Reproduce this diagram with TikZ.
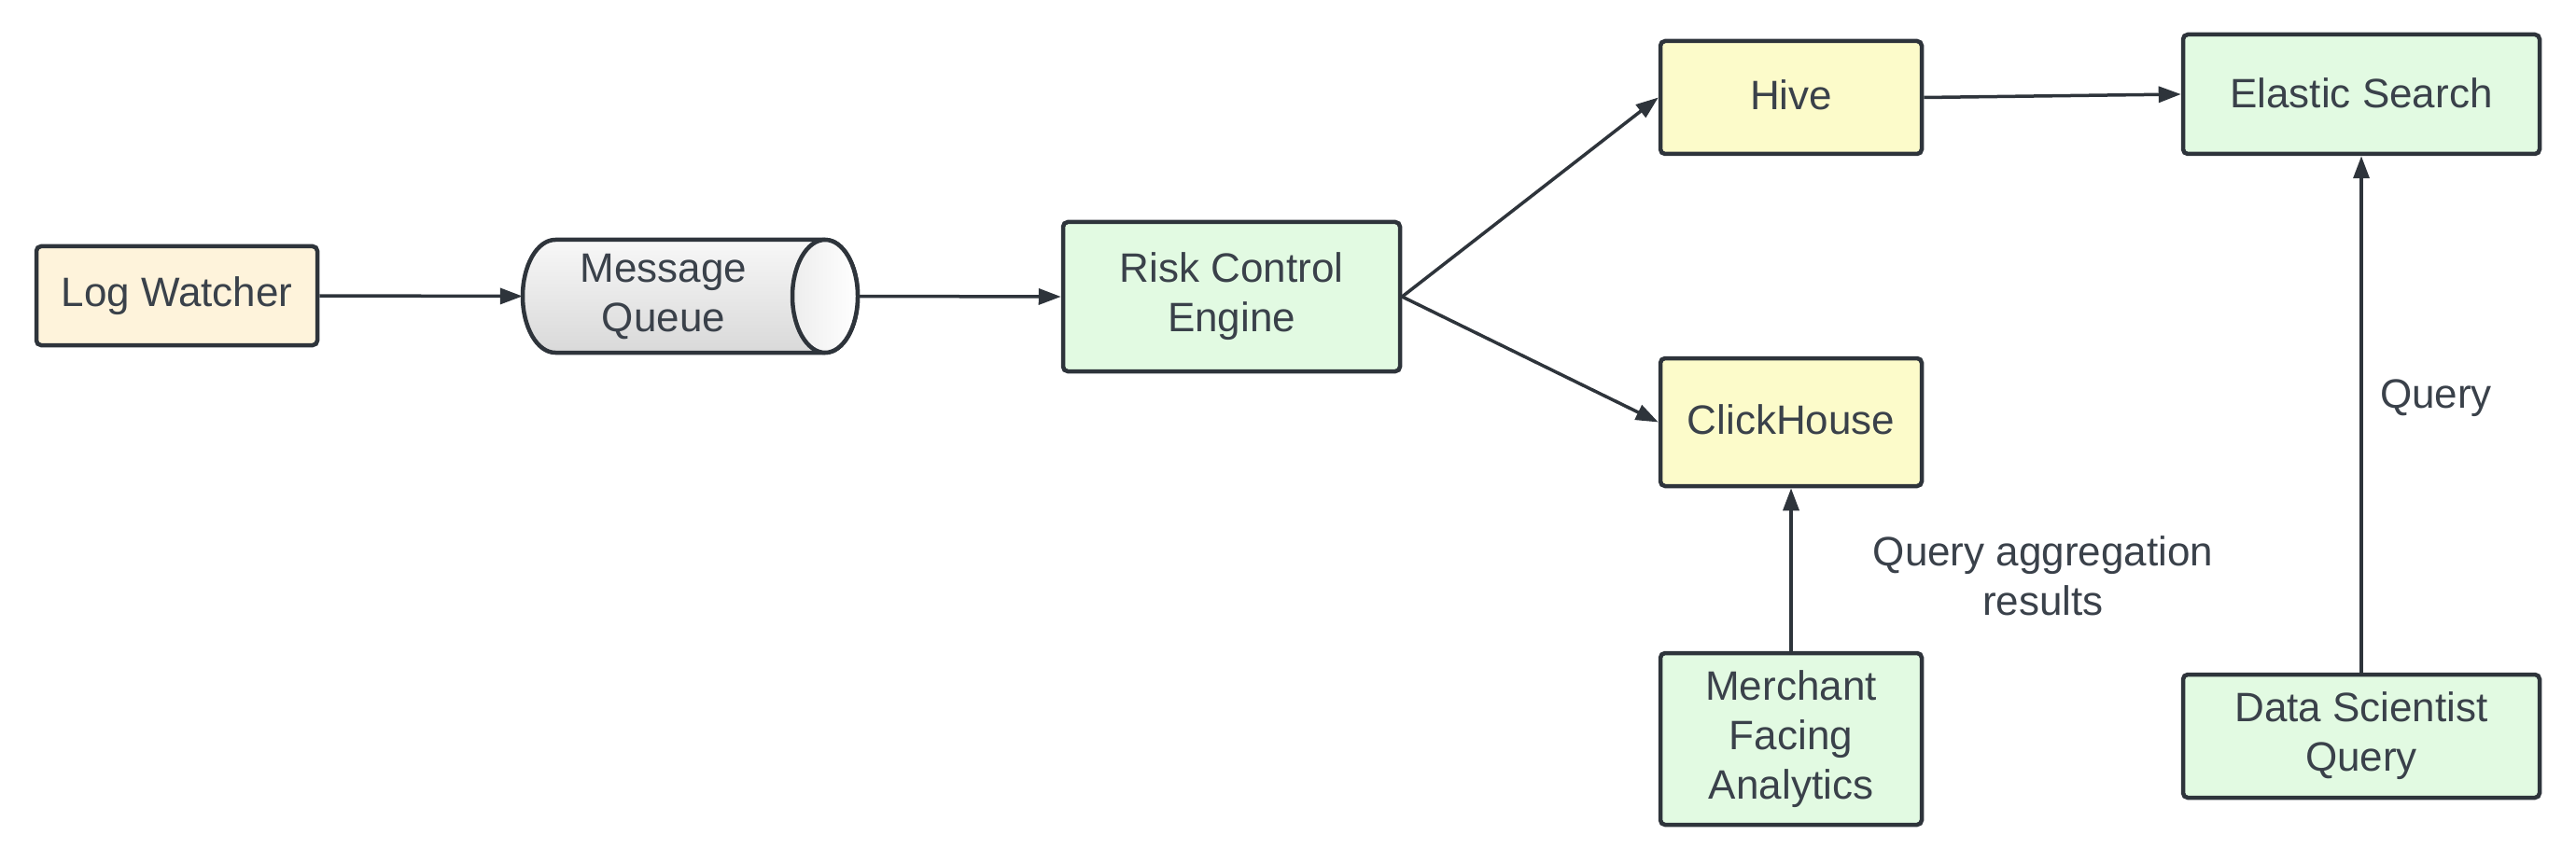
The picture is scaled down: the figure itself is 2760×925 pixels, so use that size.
\documentclass[tikz,border=0pt]{standalone}
\usepackage{fontspec}
\setmainfont{Liberation Sans}
\usetikzlibrary{arrows.meta}
\definecolor{edge}{HTML}{2E343B}
\definecolor{txt}{HTML}{3A414A}
\definecolor{cream}{HTML}{FEF3DB}
\definecolor{mint}{HTML}{E2FAE2}
\definecolor{lemon}{HTML}{FCFBCA}
\begin{document}
\begin{tikzpicture}[x=1pt,y=-1pt,
  box/.style={draw=edge, line width=4.5pt, rounded corners=5pt, text=txt, align=center,
    font=\fontsize{44}{53}\selectfont, inner sep=0pt},
  conn/.style={draw=edge, line width=3.5pt, -{Triangle[length=24pt,width=17pt]}},
  lbl/.style={text=txt, align=center, font=\fontsize{44}{53}\selectfont, inner sep=0pt}]
\useasboundingbox (0,0) rectangle (2760,925);

\node[box, fill=cream, minimum width=301pt, minimum height=106pt] (lw) at (189.5,317) {Log Watcher};

% message queue (cylinder)
\node[minimum width=359pt, minimum height=121pt, inner sep=0pt] (mq) at (739.5,317.5) {};
\draw[edge, line width=4.5pt, top color=gray!6, bottom color=gray!30]
  (595,257) -- (884,257) arc[start angle=90, end angle=-90, x radius=35pt, y radius=60.5pt]
  -- (595,378) arc[start angle=270, end angle=90, x radius=35pt, y radius=60.5pt] -- cycle;
\draw[edge, line width=4.5pt, left color=gray!14, right color=white]
  (884,317.5) ellipse [x radius=35pt, y radius=60.5pt];
\node[lbl] (mqtext) at (711,318) {Message\\Queue};

\node[box, fill=mint, minimum width=361pt, minimum height=160pt] (rce) at (1319.5,318) {Risk Control\\Engine};
\node[box, fill=lemon, minimum width=280pt, minimum height=121pt] (hive) at (1919,104.5) {\raisebox{5pt}{Hive}};
\node[box, fill=mint, minimum width=382pt, minimum height=128pt] (es) at (2530,101) {\raisebox{3pt}{Elastic Search}};
\node[box, fill=lemon, minimum width=280pt, minimum height=137pt] (ch) at (1919,452.5) {\raisebox{6pt}{ClickHouse}};
\node[box, fill=mint, minimum width=280pt, minimum height=184pt] (mfa) at (1919,792) {Merchant\\Facing\\Analytics};
\node[box, fill=mint, minimum width=382pt, minimum height=132pt] (dsq) at (2530,789) {Data Scientist\\Query};

\draw[conn] (lw.east) -- (mq.west);
\draw[conn] (mq.east) -- (rce.west);
\draw[conn] (rce.east) -- (hive.west);
\draw[conn] (rce.east) -- (ch.west);
\draw[conn] (hive.east) -- (es.west);
\draw[conn] (mfa.north) -- (ch.south);
\draw[conn] (dsq.north) -- (es.south);

\node[lbl] (qar) at (2189,617) {Query aggregation\\results};
\node[lbl] (ql) at (2610,427) {Query};
\end{tikzpicture}
\end{document}
